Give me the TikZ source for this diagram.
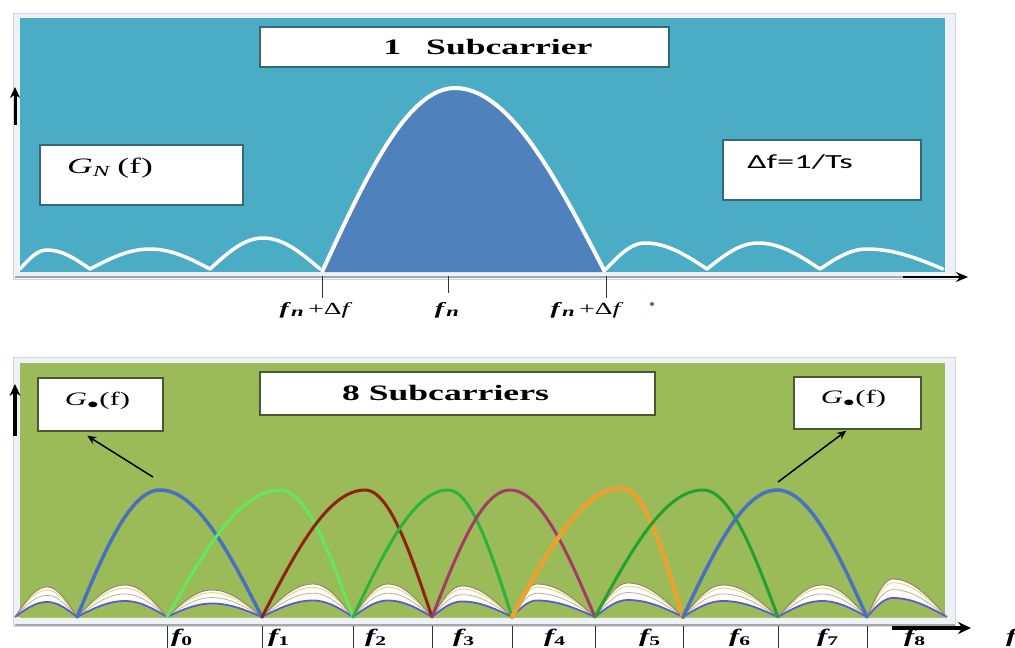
\documentclass[tikz,border=0pt]{standalone}
\usepackage{fontspec}
\usepackage{graphicx}
\setmainfont{Liberation Serif}
\newfontfamily\calfont{Carlito}
\usetikzlibrary{arrows.meta,calc}
\definecolor{teal1}{HTML}{4BACC6}
\definecolor{lobeblue}{HTML}{4F81BD}
\definecolor{green1}{HTML}{9BBB59}
\definecolor{pale}{HTML}{EEF2F6}
\definecolor{paleline}{HTML}{D0D6DC}
\definecolor{axgray}{HTML}{A4A8AC}
\definecolor{boxline1}{HTML}{3A6574}
\definecolor{boxline2}{HTML}{4A5832}
\definecolor{dotblue}{HTML}{5A5AC8}
\definecolor{sidebrown}{HTML}{8C8070}
\definecolor{sideyellow}{HTML}{E6DC70}
\definecolor{sidegray}{HTML}{B4B4A4}
\definecolor{sideblue}{HTML}{5B5BD0}
\definecolor{cA}{HTML}{4A6FC0}
\definecolor{cB}{HTML}{62EA5A}
\definecolor{cC}{HTML}{8E2410}
\definecolor{cD}{HTML}{2DB23A}
\definecolor{cE}{HTML}{A23C66}
\definecolor{cF}{HTML}{E9A232}
\definecolor{cG}{HTML}{23A031}
\definecolor{cH}{HTML}{4A70C2}
\newcommand{\hs}[2][1.62]{\scalebox{#1}[1]{#2}}
\newcommand{\fnsym}{\textbf{\textit{f}}\raisebox{-2.5pt}{\fontsize{14}{14}\selectfont\textbf{\textit{n}}}}
% asymmetric arch: a, peak, b, height, base
\newcommand{\archpath}[5]{plot[domain=#1:#2,samples=25] (\x,{#5-(#4)*sin(90*(\x-#1)/(#2-#1))}) -- plot[domain=#2:#3,samples=25] (\x,{#5-(#4)*cos(90*(\x-#2)/(#3-#2))})}
\newcommand{\sidehump}[4]{%
  \fill[white] \archpath{#1}{#2}{#3}{#4}{617} -- cycle;
  \fill[green1] \archpath{#1}{#2}{#3}{0.5*#4}{617} -- cycle;
  \draw[sideyellow, line width=1] \archpath{#1}{#2}{#3}{0.9*#4}{617};
  \draw[sidegray, line width=0.8] \archpath{#1}{#2}{#3}{0.72*#4}{617};
  \draw[sideblue, line width=1.8] \archpath{#1}{#2}{#3}{0.5*#4}{617};
  \draw[sidebrown, line width=0.9] \archpath{#1}{#2}{#3}{#4}{617};
}
\tikzset{
  box1/.style={draw=boxline1, line width=1.5, fill=white, inner sep=0},
  box2/.style={draw=boxline2, line width=1.5, fill=white, inner sep=0},
  titlefont/.style={font=\fontsize{22}{24}\selectfont\bfseries, inner sep=0},
  lobe/.style={line width=3, line cap=round, line join=round},
  tickline/.style={draw=black!80, line width=1},
  flabel/.style={font=\fontsize{19}{20}\selectfont\bfseries\itshape, inner sep=0, anchor=north},
  fnlabel/.style={font=\fontsize{17}{18}\selectfont, inner sep=0, anchor=north},
  thinarrow/.style={line width=1.5, -{Stealth[length=9,width=8]}},
}
\begin{document}
\begin{tikzpicture}[x=1pt,y=-1pt]
\useasboundingbox (0,0) rectangle (1015,648);
\fill[white] (0,0) rectangle (1015,648);

% ---------- top panel ----------
\filldraw[fill=pale, draw=paleline, line width=0.8] (13,13) rectangle (955,279);
\fill[teal1] (20,18) rectangle (945,272);

\fill[lobeblue] \archpath{322}{455}{605}{184}{272} -- cycle;
\draw[white, line width=4, line join=round] \archpath{322}{455}{605}{184}{272};
\foreach \a/\p/\b/\h in {20/47/90/19, 90/150/210/20, 210/263/320/31, 606/645/707/26, 707/758/820/26, 820/867/943/20}
  \draw[white, line width=3.5, line cap=round, line join=round] \archpath{\a}{\p}{\b}{\h}{269};

% axis
\draw[axgray, line width=2.5] (15,277) -- (955,277);
\coordinate (ax1a) at (903,277);
\coordinate (ax1b) at (968,277);
\draw[black, line width=2.4, -{Stealth[length=12,width=10]}] (ax1a) -- (ax1b);
\coordinate (up1a) at (15,125);
\coordinate (up1b) at (15,87);
\draw[black, line width=3, -{Stealth[length=11,width=10]}] (up1a) -- (up1b);

\draw[tickline] (322,276) -- (322,298);
\draw[tickline] (448,276) -- (448,293);
\draw[tickline] (606,276) -- (606,298);
\node[fnlabel] (fnl) at (316,302) {\hs{\fnsym\,+Δ\textit{f}}};
\node[fnlabel] (fnc) at (447,302) {\hs{\fnsym}};
\node[fnlabel] (fnr) at (587,302) {\hs{\fnsym\,+Δ\textit{f}}};
\fill[dotblue] (652,304) circle (2);

\node[box1, minimum width=409, minimum height=40] (title1) at (464.5,47) {};
\node[titlefont] (title1text) at (488,47) {\hs{1\hspace{0.7em}Subcarrier}};
\node[box1, minimum width=203, minimum height=60] (gnbox) at (141.5,175) {};
\node[font=\fontsize{22}{24}\selectfont, inner sep=0] (gntext) at (110,168) {\hs{\textit{G}\textsubscript{\textit{N}}\,(f)}};
\node[box1, minimum width=198, minimum height=60] (dfbox) at (822,170) {};
\node[font=\fontsize{20}{22}\selectfont\calfont, inner sep=0] (dftext) at (800,162) {\hs[1.72]{Δf=1/Ts}};

% ---------- bottom panel ----------
\filldraw[fill=pale, draw=paleline, line width=0.8] (13,357) rectangle (955,626);
\fill[green1] (20,363) rectangle (945,618);

\foreach \a/\p/\b/\h in {15/47/77/30, 77/125/167/32, 167/212/262/27, 262/313/353/33, 353/388/432/33, 432/462/512/31, 512/537/595/33, 595/628/683/34, 683/723/778/32, 778/822/867/32, 867/893/947/38}
  {\sidehump{\a}{\p}{\b}{\h}}

\draw[lobe, cA, line width=3.5] \archpath{77}{160}{262}{127}{617};
\draw[lobe, cB] \archpath{167}{280}{353}{127}{617};
\draw[lobe, cC] \archpath{262}{365}{432}{127}{617};
\draw[lobe, cD] \archpath{353}{448}{512}{127}{617};
\draw[lobe, cE] \archpath{432}{510}{595}{127}{617};
\draw[lobe, cF, line width=4.5] \archpath{512}{622}{683}{129}{617};
\draw[lobe, cG] \archpath{595}{703}{778}{127}{617};
\draw[lobe, cH, line width=3.5] \archpath{683}{777}{867}{127}{617};

% axis
\draw[axgray, line width=2.5] (15,625) -- (955,625);
\coordinate (ax2a) at (892,628);
\coordinate (ax2b) at (971,628);
\draw[black, line width=4, -{Stealth[length=13,width=12]}] (ax2a) -- (ax2b);
\coordinate (up2a) at (15,436);
\coordinate (up2b) at (15,384);
\draw[black, line width=4, -{Stealth[length=12,width=11]}] (up2a) -- (up2b);

\foreach \t in {167,262,353,432,512,595,683,778,867}
  \draw[tickline] (\t,626) -- (\t,648);
\node[flabel] (f0) at (182,629) {\hs{f\textsubscript{\upshape 0}}};
\node[flabel] (f1) at (279,629) {\hs{f\textsubscript{\upshape 1}}};
\node[flabel] (f2) at (376,629) {\hs{f\textsubscript{\upshape 2}}};
\node[flabel] (f3) at (464,629) {\hs{f\textsubscript{\upshape 3}}};
\node[flabel] (f4) at (555,629) {\hs{f\textsubscript{\upshape 4}}};
\node[flabel] (f5) at (650,629) {\hs{f\textsubscript{\upshape 5}}};
\node[flabel] (f6) at (740,629) {\hs{f\textsubscript{\upshape 6}}};
\node[flabel] (f7) at (828,629) {\hs{f\textsubscript{\upshape 7}}};
\node[flabel] (f8) at (915,629) {\hs{f\textsubscript{\upshape 8}}};
\node[flabel, anchor=north west] (fend) at (1006,629) {\hs{f}};

\node[box2, minimum width=395, minimum height=43] (title2) at (457.5,393.5) {};
\node[titlefont] (title2text) at (445.5,393) {\hs{8 Subcarriers}};
\node[box2, minimum width=125, minimum height=53] (lgbox) at (100.5,404.5) {};
\node[font=\fontsize{19}{20}\selectfont, inner sep=0] (lgtext) at (97.5,401) {\hs{\textit{G}\textsubscript{$\bullet$}(f)}};
\node[box2, minimum width=127, minimum height=52] (rgbox) at (857.5,403) {};
\node[font=\fontsize{19}{20}\selectfont, inner sep=0] (rgtext) at (853.5,399) {\hs{\textit{G}\textsubscript{$\bullet$}(f)}};

\coordinate (latail) at (153,477);
\coordinate (lahead) at ($(lgbox.south west)+(50,4)$);
\draw[thinarrow] (latail) -- (lahead);
\coordinate (ratail) at (778,482);
\coordinate (rahead) at ($(rgbox.south west)+(53,1)$);
\draw[thinarrow] (ratail) -- (rahead);
\end{tikzpicture}
\end{document}
